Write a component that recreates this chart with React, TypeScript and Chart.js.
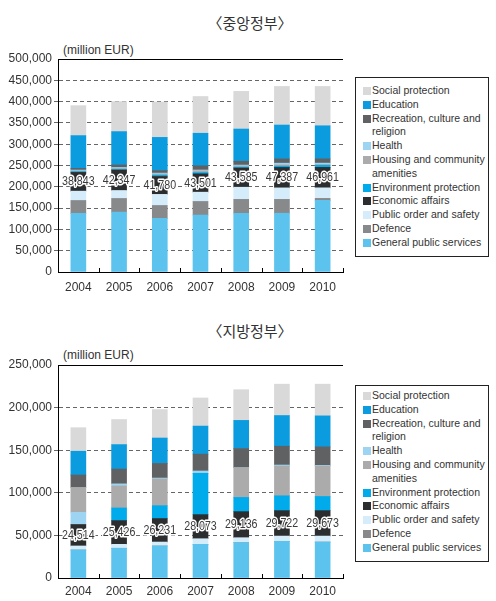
import React, { useEffect, useRef } from 'react';
import { Chart, registerables } from 'chart.js';
Chart.register(...registerables);

const years = ['2004', '2005', '2006', '2007', '2008', '2009', '2010'];

// Legend labels (top to bottom), "\n" marks the wrap in the legend box
const legendLabels = [
  'Social protection',
  'Education',
  'Recreation, culture and\nreligion',
  'Health',
  'Housing and community\namenities',
  'Environment protection',
  'Economic affairs',
  'Public order and safety',
  'Defence',
  'General public services',
];

const seriesColors = [
  '#d9d9d9', // Social protection
  '#0b9ce0', // Education
  '#606163', // Recreation
  '#9dd4f2', // Health
  '#ababab', // Housing
  '#00abec', // Environment
  '#2c2d2f', // Economic affairs
  '#d5ecfa', // Public order
  '#88898b', // Defence
  '#5cc3ee', // General public services
];

// Central government (million EUR)
const centralSocial = [70300, 70400, 83000, 86300, 88400, 90600, 92300];
const centralEducation = [76900, 78300, 77800, 76300, 75600, 79500, 77700];
const centralRecreation = [4000, 6000, 6000, 10000, 9000, 10000, 10000];
const centralHealth = [1500, 2000, 2000, 2000, 2000, 4000, 3000];
const centralHousing = [2000, 2500, 3000, 4000, 3000, 3000, 2000];
const centralEnvironment = [2000, 1500, 3000, 3000, 2000, 3000, 5000];
const centralEconomic = [44000, 48000, 42000, 43000, 45000, 48000, 48000];
const centralPublicOrder = [21900, 18700, 26000, 21800, 28500, 27000, 24800];
const centralDefence = [30400, 32000, 30500, 32000, 32500, 32500, 4600];
const centralGeneral = [137500, 140600, 125700, 133600, 138000, 138000, 168200];
const centralLabels = [38843, 42347, 41780, 43501, 43585, 47387, 46961];

// Local government (million EUR)
const localSocial = [27600, 29400, 33400, 33000, 36000, 36800, 37200];
const localEducation = [27900, 28700, 29800, 32900, 33000, 36000, 36400];
const localRecreation = [14700, 17400, 17200, 19800, 22500, 22100, 21700];
const localHealth = [0, 2400, 1000, 2700, 0, 1200, 800];
const localHousing = [29100, 25900, 31400, 0, 34900, 34900, 35700];
const localEnvironment = [14300, 14800, 15100, 48500, 16700, 17400, 16600];
const localEconomic = [25200, 27900, 27600, 28300, 30600, 29900, 29900];
const localPublicOrder = [4700, 4600, 4600, 6600, 5800, 6200, 7000];
const localDefence = [0, 0, 0, 0, 0, 0, 0];
const localGeneral = [32900, 34900, 37600, 39500, 41500, 43000, 42200];
const localLabels = [24514, 25426, 26231, 28073, 29136, 29722, 29673];
const localEnvironmentColors = ['#9dd4f2', '#00abec', '#00abec', '#00abec', '#00abec', '#00abec', '#00abec'];

const FONT = '"Liberation Sans", Arial, sans-serif';
const KFONT = '"Noto Sans CJK KR", "Noto Sans", sans-serif';

const econLabelPlugin = {
  id: 'econLabels',
  afterDatasetsDraw(chart: any, _args: any, opts: any) {
    const ctx = chart.ctx;
    const meta = chart.getDatasetMeta(opts.datasetIndex);
    meta.data.forEach((bar: any, i: number) => {
      const y = (bar.y + bar.base) / 2;
      const txt = Number(opts.values[i]).toLocaleString('en-US');
      ctx.save();
      ctx.translate(bar.x, y);
      ctx.scale(0.82, 1);
      ctx.font = `13px ${FONT}`;
      ctx.textAlign = 'center';
      ctx.textBaseline = 'middle';
      ctx.lineJoin = 'round';
      ctx.strokeStyle = '#ffffff';
      ctx.lineWidth = 3;
      ctx.strokeText(txt, 0, 0);
      ctx.fillStyle = '#3a3a3a';
      ctx.fillText(txt, 0, 0);
      ctx.restore();
    });
  },
};

const boundaryTickPlugin = {
  id: 'boundaryTicks',
  afterDraw(chart: any) {
    const { ctx, chartArea } = chart;
    const n = chart.data.labels.length;
    const w = (chartArea.right - chartArea.left) / n;
    ctx.save();
    ctx.strokeStyle = '#000';
    ctx.lineWidth = 1;
    for (let i = 1; i <= n; i++) {
      const x = Math.round(chartArea.left + i * w) + 0.5;
      ctx.beginPath();
      ctx.moveTo(x, chartArea.bottom);
      ctx.lineTo(x, chartArea.bottom - 4);
      ctx.stroke();
    }
    ctx.restore();
  },
};

type Props = {
  top: number;
  height: number;
  padTop: number;
  xAxisHeight: number;
  xLabelPad: number;
  max: number;
  series: number[][];
  colorsOverride?: Record<number, string[]>;
  labels: number[];
};

function StackedChart({ top, height, padTop, xAxisHeight, xLabelPad, max, series, colorsOverride, labels }: Props) {
  const ref = useRef<HTMLCanvasElement>(null);
  useEffect(() => {
    if (!ref.current) return;
    // series are given top-to-bottom (legend order); stack bottom-up
    const datasets = series
      .map((data, i) => ({
        label: legendLabels[i].replace('\n', ' '),
        data,
        backgroundColor: (colorsOverride && colorsOverride[i]) || seriesColors[i],
        borderWidth: 0,
        barThickness: 15,
        stack: 's',
      }))
      .reverse();
    const econIndex = datasets.findIndex((d) => d.label === 'Economic affairs');
    const chart = new Chart(ref.current, {
      type: 'bar',
      data: { labels: years, datasets },
      options: {
        animation: false,
        responsive: false,
        maintainAspectRatio: false,
        layout: { padding: { top: padTop, right: 7, left: 0, bottom: 0 } },
        plugins: {
          legend: { display: false },
          tooltip: { enabled: false },
          econLabels: { datasetIndex: econIndex, values: labels },
        } as any,
        scales: {
          x: {
            stacked: true,
            grid: { display: false, drawTicks: false, tickLength: 0 },
            border: { display: true, color: '#000', width: 1 },
            ticks: { color: '#333', font: { size: 12, family: FONT }, padding: xLabelPad },
            afterFit: (s: any) => {
              s.height = xAxisHeight;
            },
          },
          y: {
            stacked: true,
            min: 0,
            max,
            ticks: {
              stepSize: 50000,
              color: '#333',
              font: { size: 12, family: FONT },
              padding: 2,
              callback: (v: any) => Number(v).toLocaleString('en-US'),
            },
            grid: {
              color: (c: any) =>
                c.tick && c.tick.value === max ? '#000' : c.tick && c.tick.value === 0 ? 'rgba(0,0,0,0)' : '#666',
              tickColor: (c: any) =>
                c.tick && (c.tick.value === max || c.tick.value === 0) ? 'rgba(0,0,0,0)' : '#666',
              tickLength: 4,
              lineWidth: 1,
            },
            border: {
              display: true,
              color: '#000',
              width: 1,
              dash: (c: any) => (c.tick && c.tick.value === max ? [] : [4, 3]),
            } as any,
            afterFit: (s: any) => {
              s.width = 58;
            },
          },
        },
      },
      plugins: [econLabelPlugin, boundaryTickPlugin],
    });
    return () => chart.destroy();
  }, []);
  return (
    <canvas
      ref={ref}
      width={350}
      height={height}
      style={{ position: 'absolute', left: 0, top, width: 350, height }}
    />
  );
}

function Legend({ top, height, padTop }: { top: number; height: number; padTop: number }) {
  return (
    <div
      style={{
        position: 'absolute',
        left: 355,
        top,
        width: 134,
        height,
        boxSizing: 'border-box',
        border: '1px solid #222',
        paddingTop: padTop,
        fontFamily: FONT,
        fontSize: 10.5,
        color: '#333',
        lineHeight: '13.8px',
      }}
    >
      {legendLabels.map((lab, i) => (
        <div key={i} style={{ position: 'relative', paddingLeft: 16, whiteSpace: 'nowrap' }}>
          <span
            style={{
              position: 'absolute',
              left: 7,
              top: 3,
              width: 8,
              height: 8,
              background: seriesColors[i],
            }}
          />
          {lab.split('\n').map((ln, j) => (
            <div key={j}>{ln}</div>
          ))}
        </div>
      ))}
    </div>
  );
}

function Title({ text, centerY }: { text: string; centerY: number }) {
  return (
    <div
      style={{
        position: 'absolute',
        left: 0,
        width: 500,
        top: centerY - 10,
        height: 20,
        lineHeight: '20px',
        textAlign: 'center',
        fontFamily: KFONT,
        fontSize: 15,
        color: '#333',
      }}
    >
      <span style={{ marginLeft: '-0.5em' }}>〈</span>
      {text}
      <span style={{ marginRight: '-0.5em' }}>〉</span>
    </div>
  );
}

function Unit({ centerY }: { centerY: number }) {
  return (
    <div
      style={{
        position: 'absolute',
        left: 63,
        top: centerY - 8,
        height: 16,
        lineHeight: '16px',
        fontFamily: FONT,
        fontSize: 12,
        color: '#333',
        whiteSpace: 'nowrap',
      }}
    >
      (million EUR)
    </div>
  );
}

export default function App() {
  const centralSeries = [
    centralSocial,
    centralEducation,
    centralRecreation,
    centralHealth,
    centralHousing,
    centralEnvironment,
    centralEconomic,
    centralPublicOrder,
    centralDefence,
    centralGeneral,
  ];
  const localSeries = [
    localSocial,
    localEducation,
    localRecreation,
    localHealth,
    localHousing,
    localEnvironment,
    localEconomic,
    localPublicOrder,
    localDefence,
    localGeneral,
  ];
  return (
    <div
      style={{
        position: 'absolute',
        left: 0,
        top: 0,
        width: 496,
        height: 601,
        background: '#fff',
        overflow: 'hidden',
      }}
    >
      <Title text="중앙정부" centerY={23} />
      <Unit centerY={50} />
      <StackedChart
        top={0}
        height={300}
        padTop={59}
        xAxisHeight={28}
        xLabelPad={8}
        max={500000}
        series={centralSeries}
        labels={centralLabels}
      />
      <Legend top={77} height={180} padTop={6} />

      <Title text="지방정부" centerY={331} />
      <Unit centerY={355} />
      <StackedChart
        top={300}
        height={301}
        padTop={65}
        xAxisHeight={23}
        xLabelPad={6}
        max={250000}
        series={localSeries}
        colorsOverride={{ 5: localEnvironmentColors }}
        labels={localLabels}
      />
      <Legend top={385} height={177} padTop={3} />
    </div>
  );
}
